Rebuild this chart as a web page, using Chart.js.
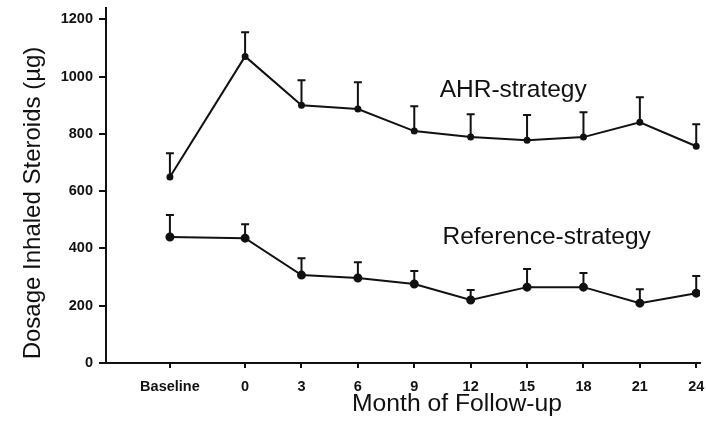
<!DOCTYPE html>
<html>
<head>
<meta charset="utf-8">
<script src="https://cdn.jsdelivr.net/npm/chart.js@4.4.0/dist/chart.umd.min.js"></script>
<style>
  html, body { margin: 0; padding: 0; background: #fff; }
  #wrap { width: 706px; height: 434px; }
</style>
</head>
<body>
<div id="wrap"><canvas id="chart" width="706" height="434"></canvas></div>
<script>
/* ── Data ───────────────────────────────────────────────────────────────── */

const MONTHS       = [-4, 0, 3, 6, 9, 12, 15, 18, 21, 24];   // -4 = baseline slot
const MONTH_LABELS = ['Baseline', '0', '3', '6', '9', '12', '15', '18', '21', '24'];
const Y_TICKS      = [0, 200, 400, 600, 800, 1000, 1200];

const AHR_MEAN = [650, 1071, 900, 887, 810, 789, 778, 789, 841, 757];
const AHR_ERR  = [83, 84, 88, 94, 87, 80, 88, 87, 87, 77];
const REF_MEAN = [440, 436, 307, 297, 276, 220, 265, 265, 209, 244];
const REF_ERR  = [77, 49, 59, 55, 45, 35, 63, 49, 49, 60];

const INK  = '#111';
const FONT = '"Liberation Sans", Arial, sans-serif';

// ── Plugins ────────────────────────────────────────────────────────────────

const errorBars = {
  id: 'errorBars',
  afterDatasetsDraw(chart) {
    const { ctx, scales: { x, y } } = chart;
    ctx.save();
    ctx.strokeStyle = INK;
    ctx.lineWidth = 2;
    chart.data.datasets.forEach(ds => {
      ds.err.forEach((e, i) => {
        const px = x.getPixelForValue(MONTHS[i]);
        const y0 = y.getPixelForValue(ds.data[i].y);
        const y1 = y.getPixelForValue(ds.data[i].y + e);
        ctx.beginPath();
        ctx.moveTo(px, y0); ctx.lineTo(px, y1);
        ctx.moveTo(px - 4, y1); ctx.lineTo(px + 4, y1);
        ctx.stroke();
      });
    });
    ctx.restore();
  }
};

const texts = {
  id: 'texts',
  afterDraw(chart) {
    const { ctx, scales: { x, y } } = chart;
    ctx.save();
    ctx.fillStyle = INK;
    ctx.textBaseline = 'middle';
    ctx.font = `24.5px ${FONT}`;
    ctx.textAlign = 'left';
    ctx.fillText('AHR-strategy', x.getPixelForValue(10.35), y.getPixelForValue(953));
    ctx.fillText('Reference-strategy', x.getPixelForValue(10.5), y.getPixelForValue(440));

    ctx.font = `24.7px ${FONT}`;
    ctx.textAlign = 'center';
    ctx.fillText('Month of Follow-up', 457, 404);

    ctx.font = `24px ${FONT}`;
    ctx.translate(33, 203);
    ctx.rotate(-Math.PI / 2);
    ctx.fillText('Dosage Inhaled Steroids (µg)', 0, 0);
    ctx.restore();
  }
};

// ── Chart ──────────────────────────────────────────────────────────────────

const series = (mean) => MONTHS.map((m, i) => ({ x: m, y: mean[i] }));
const tickFont = { family: FONT, size: 14.5, weight: 'bold' };

new Chart(document.getElementById('chart'), {
  type: 'line',
  data: {
    datasets: [
      { label: 'AHR-strategy', data: series(AHR_MEAN), err: AHR_ERR,
        borderColor: INK, backgroundColor: INK, borderWidth: 2,
        pointRadius: 2.5, tension: 0 },
      { label: 'Reference-strategy', data: series(REF_MEAN), err: REF_ERR,
        borderColor: INK, backgroundColor: INK, borderWidth: 2,
        pointRadius: 3.5, tension: 0 },
    ]
  },
  options: {
    responsive: false,
    animation: false,
    layout: { padding: { top: 8, right: 0, left: 0, bottom: 0 } },
    plugins: { legend: { display: false }, tooltip: { enabled: false } },
    scales: {
      x: {
        type: 'linear', min: -7.4, max: 24.2,
        afterBuildTicks: s => { s.ticks = MONTHS.map(v => ({ value: v })); },
        afterFit: s => { s.height = 71; s.paddingLeft = 0; s.paddingRight = 0; },
        ticks: {
          autoSkip: false, maxRotation: 0, padding: 10, color: INK, font: tickFont,
          callback: v => MONTH_LABELS[MONTHS.indexOf(v)]
        },
        grid: { drawOnChartArea: false, drawTicks: true, tickLength: 5, color: INK, lineWidth: 2 },
        border: { display: true, color: INK, width: 2 }
      },
      y: {
        min: 0, max: 1240,
        afterBuildTicks: s => { s.ticks = Y_TICKS.map(v => ({ value: v })); },
        afterFit: s => { s.width = 106; s.paddingTop = 0; s.paddingBottom = 0; },
        ticks: { padding: 6, color: INK, font: tickFont, callback: v => String(v) },
        grid: { drawOnChartArea: false, drawTicks: true, tickLength: 7, color: INK, lineWidth: 2 },
        border: { display: true, color: INK, width: 2 }
      }
    }
  },
  plugins: [errorBars, texts]
});
</script>
</body>
</html>
